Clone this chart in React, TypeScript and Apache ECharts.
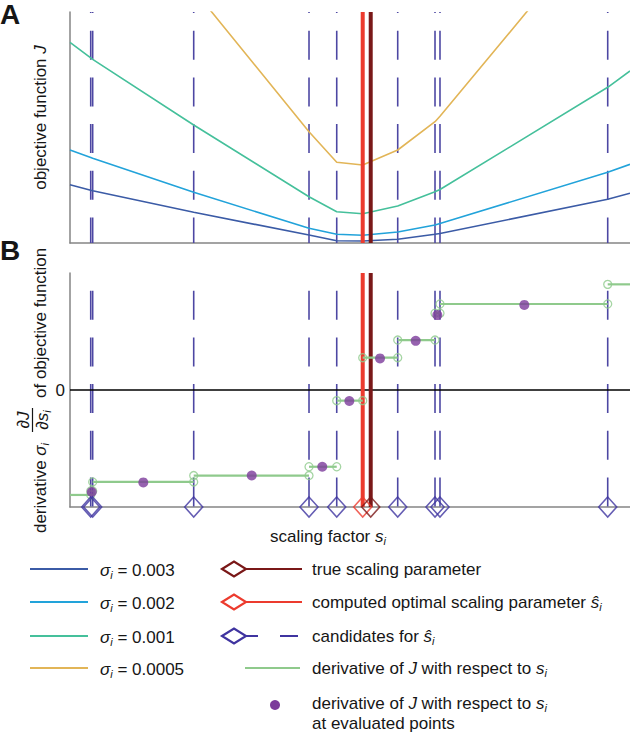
import React, { useEffect, useRef } from 'react';
import * as echarts from 'echarts';

// ---------- data (scaling-factor axis in arbitrary units 0..100) ----------
const candidates = [3.7, 4.05, 22.09, 42.68, 47.63, 58.52, 65.18, 66.07, 96.02];
const optimalS = 52.27;
const trueS = 53.7;

// objective function J at its kinks (J axis 0..100)
const knotS = [0, 3.7, 4.05, 22.09, 42.68, 47.63, 52.27, 58.52, 65.18, 66.07, 96.02, 100];
const J_sigma0003 = [25.2, 22.86, 22.64, 13.29, 3.46, 1.0, 0.87, 1.6, 3.77, 4.11, 18.92, 21.52];
const J_sigma0002 = [40.26, 37.01, 36.67, 21.95, 6.36, 3.77, 3.33, 4.76, 7.79, 8.44, 30.61, 34.07];
const J_sigma0001 = [86.88, 80.17, 79.52, 51.08, 20.04, 13.55, 12.68, 16.02, 22.21, 23.16, 67.4, 74.46];
const J_sigma00005 = [181.4, 168.1, 166.8, 109.6, 48.18, 34.94, 33.77, 40.26, 52.51, 54.85, 142.3, 156.6];
const sigmaLabels = ['0.003', '0.002', '0.001', '0.0005'];

// derivative (piecewise constant, axis -1..1)
const derivBreaks = [0, 3.7, 4.05, 22.09, 42.68, 47.63, 52.27, 58.52, 65.18, 66.07, 96.02, 100];
const derivValues = [-0.897, -0.863, -0.786, -0.731, -0.656, -0.091, 0.276, 0.427, 0.656, 0.735, 0.903];
const evalS = [3.88, 13.09, 32.45, 45.05, 49.88, 55.36, 61.73, 65.59, 81.13];
const evalD = [-0.872, -0.79, -0.731, -0.656, -0.094, 0.27, 0.42, 0.64, 0.727];

// ---------- styles ----------
const FONT = '"Liberation Sans", Arial, Helvetica, sans-serif';
const TXT = '#161616';
const sigmaColors = ['#3b5ba6', '#22a3da', '#45c09b', '#e2b557'];
const CAND = '#4d47a3';
const DIAM = '#3f34a0';
const RED = '#ec3b2e';
const DARKRED = '#7a1818';
const GREEN = '#8fca8c';
const PURPLE = '#7c3b9b';
const AXIS = '#858585';

const RICH: any = {
  it: { fontFamily: FONT, fontSize: 17, fontStyle: 'italic', fill: TXT, lineHeight: 20 },
  sub: { fontFamily: FONT, fontSize: 11, fontStyle: 'italic', fill: TXT, lineHeight: 12, verticalAlign: 'bottom' },
};

function txt(x: number, y: number, text: string, opts: any = {}) {
  const { rotation, align, size, weight } = opts;
  return {
    type: 'text',
    x,
    y,
    rotation: rotation || 0,
    silent: true,
    z: 100,
    style: {
      text,
      fontFamily: FONT,
      fontSize: size || 17,
      fontWeight: weight || 'normal',
      fill: TXT,
      align: align || 'left',
      verticalAlign: 'middle',
      lineHeight: size && size > 20 ? size : 20,
      rich: RICH,
    },
  };
}

function diamond(cx: number, cy: number, w: number, h: number, color: string) {
  return {
    type: 'polygon',
    silent: true,
    z: 100,
    shape: { points: [[cx - w / 2, cy], [cx, cy - h / 2], [cx + w / 2, cy], [cx, cy + h / 2]] },
    style: { fill: 'none', stroke: color, lineWidth: 2.2 },
  };
}

function hline(x1: number, x2: number, y: number, color: string, w = 2) {
  return {
    type: 'line',
    silent: true,
    z: 100,
    shape: { x1, y1: y, x2, y2: y },
    style: { stroke: color, lineWidth: w },
  };
}

export default function App() {
  const ref = useRef<HTMLDivElement>(null);

  useEffect(() => {
    const chart = echarts.init(ref.current!, null, { renderer: 'svg' });
    const series: any[] = [];

    // candidate dashed lines
    const addCand = (gi: number, top: number, bottom: number, offset: number) => {
      candidates.forEach((c) =>
        series.push({
          type: 'line',
          xAxisIndex: gi,
          yAxisIndex: gi,
          data: [[c, top], [c, bottom]],
          symbol: 'none',
          silent: true,
          z: 1,
          lineStyle: { color: CAND, width: 1.6, type: [29, 17.7], dashOffset: offset },
        })
      );
    };
    addCand(0, 100, 0, 28.4);
    addCand(1, 1, -1, 29);

    // J curves
    [J_sigma0003, J_sigma0002, J_sigma0001, J_sigma00005].forEach((J, i) =>
      series.push({
        type: 'line',
        xAxisIndex: 0,
        yAxisIndex: 0,
        data: knotS.map((s, k) => [s, J[k]]),
        symbol: 'none',
        silent: true,
        z: 3,
        lineStyle: { color: sigmaColors[i], width: 1.6 },
      })
    );

    // optimal / true lines in both panels
    [[0, 100, 0], [1, 1, -1]].forEach(([gi, top, bottom]) => {
      series.push({
        type: 'line', xAxisIndex: gi, yAxisIndex: gi, symbol: 'none', silent: true, z: 4,
        data: [[optimalS, top], [optimalS, bottom]],
        lineStyle: { color: RED, width: 4 },
      });
      series.push({
        type: 'line', xAxisIndex: gi, yAxisIndex: gi, symbol: 'none', silent: true, z: 4,
        data: [[trueS, top], [trueS, bottom]],
        lineStyle: { color: DARKRED, width: 4 },
      });
    });

    // zero line
    series.push({
      type: 'line', xAxisIndex: 1, yAxisIndex: 1, symbol: 'none', silent: true, z: 2,
      data: [[0, 0], [100, 0]],
      lineStyle: { color: '#000', width: 1.3 },
    });

    // derivative steps
    derivValues.forEach((v, k) =>
      series.push({
        type: 'line', xAxisIndex: 1, yAxisIndex: 1, symbol: 'none', silent: true, z: 5,
        data: [[derivBreaks[k], v], [derivBreaks[k + 1], v]],
        lineStyle: { color: GREEN, width: 2.2 },
      })
    );

    // open circles at the step ends
    const circ: number[][] = [];
    for (let k = 1; k < derivValues.length; k++) {
      circ.push([derivBreaks[k], derivValues[k - 1]]);
      circ.push([derivBreaks[k], derivValues[k]]);
    }
    series.push({
      type: 'scatter', xAxisIndex: 1, yAxisIndex: 1, silent: true, z: 6, clip: false,
      data: circ, symbol: 'circle', symbolSize: 8,
      itemStyle: { color: 'rgba(255,255,255,0)', borderColor: GREEN, borderWidth: 1.3 },
    });

    // evaluated points
    series.push({
      type: 'scatter', xAxisIndex: 1, yAxisIndex: 1, silent: true, z: 7, clip: false,
      data: evalS.map((s, i) => [s, evalD[i]]), symbol: 'circle', symbolSize: 10,
      itemStyle: { color: PURPLE },
    });

    // diamonds on the bottom axis of panel B
    const diamondSeries = (pts: number[], color: string) => ({
      type: 'scatter', xAxisIndex: 1, yAxisIndex: 1, silent: true, z: 8, clip: false,
      data: pts.map((s) => [s, -1]), symbol: 'diamond', symbolSize: [18, 20],
      itemStyle: { color: 'rgba(255,255,255,0)', borderColor: color, borderWidth: 1.6 },
    });
    series.push(diamondSeries(candidates, DIAM));
    series.push(diamondSeries([optimalS], RED));
    series.push(diamondSeries([trueS], DARKRED));

    const axisBase = {
      type: 'value',
      axisLine: { show: true, onZero: false, lineStyle: { color: AXIS, width: 1.5 } },
      axisTick: { show: false },
      axisLabel: { show: false },
      splitLine: { show: false },
    };

    // legend rows
    const leftY = [569, 602, 636, 668];
    const rightY = [569, 602, 636, 668, 703, 723];
    const legend: any[] = [];
    sigmaLabels.forEach((l, i) => {
      legend.push(hline(30, 88, leftY[i], sigmaColors[i], 2.2));
      legend.push(txt(100, leftY[i] + 1, `{it|σ}{sub|i} = ${l}`));
    });
    legend.push(diamond(234, rightY[0], 24, 15, DARKRED), hline(246, 302, rightY[0], DARKRED));
    legend.push(txt(312, rightY[0], 'true scaling parameter'));
    legend.push(diamond(234, rightY[1], 24, 15, RED), hline(246, 302, rightY[1], RED));
    legend.push(txt(312, rightY[1], 'computed optimal scaling parameter {it|ŝ}{sub|i}'));
    legend.push(diamond(234, rightY[2], 24, 15, DIAM), hline(246, 258, rightY[2], DIAM), hline(280, 298, rightY[2], DIAM));
    legend.push(txt(312, rightY[2], 'candidates for {it|ŝ}{sub|i}'));
    legend.push(hline(245, 300, rightY[3], GREEN, 2.2));
    legend.push(txt(312, rightY[3], 'derivative of {it|J} with respect to {it|s}{sub|i}'));
    legend.push({ type: 'circle', silent: true, z: 100, shape: { cx: 275, cy: rightY[4] + 2, r: 5 }, style: { fill: PURPLE } });
    legend.push(txt(312, rightY[4], 'derivative of {it|J} with respect to {it|s}{sub|i}'));
    legend.push(txt(312, rightY[5], 'at evaluated points'));

    const labels: any[] = [
      txt(0, 14, 'A', { size: 28, weight: 'bold' }),
      txt(0, 250, 'B', { size: 28, weight: 'bold' }),
      txt(40, 117.5, 'objective function {it|J}', { rotation: Math.PI / 2, align: 'center' }),
      txt(40, 488, 'derivative {it|σ}{sub|i}', { rotation: Math.PI / 2, align: 'center' }),
      txt(23, 420, '∂{it|J}', { rotation: Math.PI / 2, align: 'center' }),
      { type: 'line', silent: true, z: 100, shape: { x1: 32.5, y1: 408, x2: 32.5, y2: 432 }, style: { stroke: TXT, lineWidth: 1.2 } },
      txt(42, 420, '∂{it|s}{sub|i}', { rotation: Math.PI / 2, align: 'center' }),
      txt(40, 398, 'of objective function', { rotation: Math.PI / 2, align: 'left' }),
      txt(328, 536, 'scaling factor {it|s}{sub|i}', { align: 'center' }),
    ];

    chart.setOption({
      animation: false,
      backgroundColor: '#fff',
      grid: [
        { left: 70, top: 12, width: 560, height: 231 },
        { left: 70, top: 273, width: 560, height: 234 },
      ],
      xAxis: [
        { ...axisBase, gridIndex: 0, min: 0, max: 100 },
        { ...axisBase, gridIndex: 1, min: 0, max: 100 },
      ],
      yAxis: [
        { ...axisBase, gridIndex: 0, min: 0, max: 100 },
        {
          ...axisBase,
          gridIndex: 1,
          min: -1,
          max: 1,
          interval: 1,
          axisLabel: {
            show: true,
            margin: 5,
            fontSize: 17,
            fontFamily: FONT,
            color: TXT,
            formatter: (v: number) => (v === 0 ? '0' : ''),
          },
        },
      ],
      series,
      graphic: [...legend, ...labels],
    });

    return () => chart.dispose();
  }, []);

  return (
    <div
      ref={ref}
      style={{ position: 'fixed', left: 0, top: 0, width: 630, height: 732, background: '#fff' }}
    />
  );
}
